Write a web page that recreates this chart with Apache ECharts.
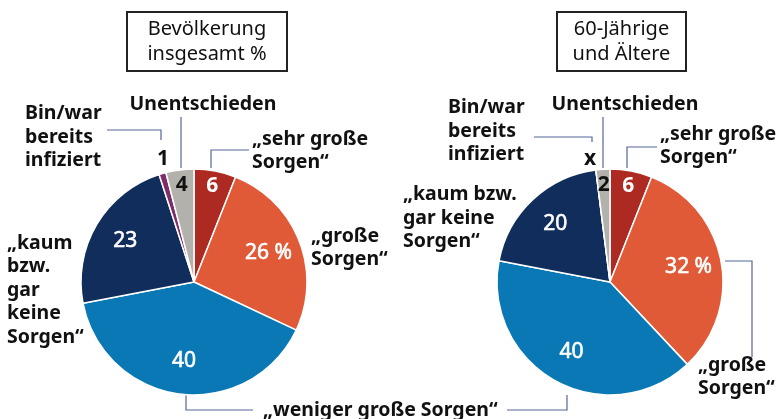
<!DOCTYPE html>
<html>
<head>
<meta charset="utf-8">
<script src="https://cdn.jsdelivr.net/npm/echarts@6/dist/echarts.min.js"></script>
<style>
  html, body { margin: 0; padding: 0; background: #fff; }
  #chart { width: 783px; height: 419px; }
</style>
</head>
<body>
<div id="chart"></div>
<script>
// Daten
const categories = ['„sehr große Sorgen“', '„große Sorgen“', '„weniger große Sorgen“', '„kaum bzw. gar keine Sorgen“', 'Bin/war bereits infiziert', 'Unentschieden']
const colors = ['#ad2a22', '#e05a38', '#0a78b5', '#102d5c', '#7d2c6c', '#b3b1ab']
const totalValues = [6, 26, 40, 23, 1, 4]
const seniorValues = [6, 32, 40, 20, 0, 2]
const totalLabels = ['6', '26 %', '40', '23', '1', '4']
const seniorLabels = ['6', '32 %', '40', '20', 'x', '2']
const panelTitles = ['Bevölkerung\ninsgesamt %', '60-Jährige\nund Ältere']

const FONT = '"Noto Sans", "Open Sans", sans-serif'
const LINE = '#56659a'
const R = 113

const chart = echarts.init(document.getElementById('chart'))

const pieSeries = (values, labels, center) => {
  const base = {
    type: 'pie',
    center,
    startAngle: 90,
    clockwise: true,
    silent: true,
    animation: false,
    avoidLabelOverlap: false,
    labelLine: { show: false }
  }
  const labelFor = (i, v, show) => {
    const c = i === 5 ? '#111' : '#fff'
    return {
      show,
      position: 'inside',
      formatter: () => labels[i],
      color: c,
      textBorderColor: c,
      textBorderWidth: v < 10 ? 0 : 0.6,
      fontFamily: FONT,
      fontSize: 21,
      fontWeight: v < 10 ? 'bold' : 'normal'
    }
  }
  return [
    {
      ...base,
      radius: [0, R],
      data: values.map((v, i) => ({ name: categories[i], value: v, itemStyle: { color: colors[i] } })),
      itemStyle: { borderColor: '#fff', borderWidth: 1.5 },
      label: { show: false }
    },
    {
      // Beschriftung große Segmente
      ...base,
      radius: [41, R],
      itemStyle: { color: 'transparent', borderWidth: 0 },
      data: values.map((v, i) => ({ name: categories[i], value: v, label: labelFor(i, v, v >= 10) }))
    },
    {
      // Beschriftung kleine Segmente
      ...base,
      radius: [76, R],
      itemStyle: { color: 'transparent', borderWidth: 0 },
      data: values.map((v, i) => ({ name: categories[i], value: v, label: labelFor(i, v, v >= 2 && v < 10) }))
    }
  ]
}

const txt = (text, x, y, opts = {}) => ({
  type: 'text',
  silent: true,
  style: {
    text,
    x,
    y,
    fill: opts.fill || '#111',
    font: opts.font || 'bold 19.5px ' + FONT,
    lineHeight: opts.lineHeight || 23.5,
    align: opts.align || 'left',
    verticalAlign: 'middle'
  }
})

const line = (points) => ({
  type: 'polyline',
  silent: true,
  shape: { points },
  style: { stroke: LINE, lineWidth: 1.2, fill: null }
})

const titleBox = (text, x, y, w, h) => [
  {
    type: 'rect',
    silent: true,
    shape: { x, y, width: w, height: h },
    style: { fill: '#fff', stroke: '#222', lineWidth: 2 }
  },
  txt(text, x + w / 2, y + h / 2, { font: '20px ' + FONT, align: 'center', lineHeight: 25 })
]

chart.setOption({
  backgroundColor: '#fff',
  series: [
    ...pieSeries(totalValues, totalLabels, [194, 282]),
    ...pieSeries(seniorValues, seniorLabels, [610, 282])
  ],
  graphic: [
    ...titleBox(panelTitles[0], 127, 12, 160, 59),
    ...titleBox(panelTitles[1], 557, 12, 129, 59),

    // linke Grafik
    txt('Bin/war\nbereits\ninfiziert', 25, 137),
    line([[107, 130], [161, 130], [161, 140]]),
    txt(totalLabels[4], 163, 159, { align: 'center', font: 'bold 21px ' + FONT }),
    txt('Unentschieden', 203, 104, { align: 'center' }),
    line([[181, 117], [181, 168]]),
    txt('„sehr große\nSorgen“', 252, 151),
    line([[249, 150], [211, 150], [211, 168]]),
    txt('„große\nSorgen“', 311, 248),
    txt('„kaum\nbzw.\ngar\nkeine\nSorgen“', 7, 290),
    line([[186, 395], [186, 410], [253, 410]]),
    txt('„weniger große Sorgen“', 263, 410),

    // rechte Grafik
    txt('Bin/war\nbereits\ninfiziert', 448, 131),
    line([[534, 137], [592, 137], [592, 142]]),
    txt(seniorLabels[4], 590, 159, { align: 'center', font: 'bold 21px ' + FONT }),
    txt('Unentschieden', 625, 104, { align: 'center' }),
    line([[603, 117], [603, 168]]),
    txt('„sehr große\nSorgen“', 660, 146),
    line([[657, 147], [627, 147], [627, 168]]),
    txt('„kaum bzw.\ngar keine\nSorgen“', 403, 218),
    line([[725, 261], [752, 261], [752, 357]]),
    txt('„große\nSorgen“', 698, 377),
    line([[567, 395], [567, 410], [507, 410]])
  ]
})
</script>
</body>
</html>
